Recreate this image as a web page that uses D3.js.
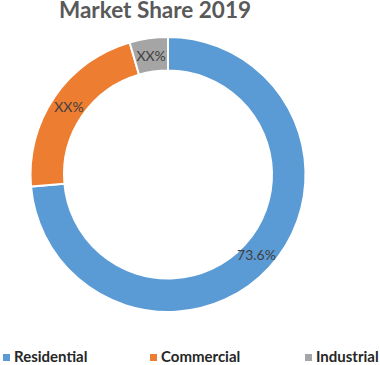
<!DOCTYPE html>
<html><head><meta charset="utf-8">
<script src="https://cdn.jsdelivr.net/npm/d3@7/dist/d3.min.js"></script>
<style>html,body{margin:0;padding:0;background:#fff;}</style>
</head><body><div id="chart"></div>
<script>
const categories = ["Residential", "Commercial", "Industrial"];
const values = [73.6, 21.9, 4.5];
const labels = ["73.6%", "XX%", "XX%"];
const colors = ["#5B9BD5", "#ED7D31", "#A5A5A5"];
const title = "Market Share 2019";

const W = 380, H = 365;
const cx = 168, cy = 174.5, rOuter = 137.5, rInner = 104;
const svg = d3.select("#chart").append("svg").attr("width", W).attr("height", H);

svg.append("text").attr("x", 155).attr("y", 18).attr("text-anchor", "middle")
  .attr("font-family", "Lato, 'Open Sans', sans-serif").attr("font-weight", "bold")
  .attr("font-size", 22.5).attr("fill", "#595959").text(title);

const data = categories.map((c, i) => ({cat: c, value: values[i], label: labels[i], color: colors[i]}));
const pie = d3.pie().value(d => d.value).sort(null);
const arc = d3.arc().innerRadius(rInner).outerRadius(rOuter);
const labelArc = d3.arc().innerRadius(120).outerRadius(120);
const g = svg.append("g").attr("transform", `translate(${cx},${cy})`);
const arcs = pie(data);
g.selectAll("path").data(arcs).join("path")
  .attr("d", arc).attr("fill", d => d.data.color)
  .attr("stroke", "#fff").attr("stroke-width", 2);
g.selectAll("text").data(arcs).join("text")
  .attr("transform", d => `translate(${labelArc.centroid(d)})`)
  .attr("text-anchor", "middle").attr("dy", "0.35em")
  .attr("font-family", "Lato, 'Open Sans', sans-serif").attr("font-size", 14)
  .attr("fill", "#404040").text(d => d.data.label);

const legendX = [3, 150, 305];
const lg = svg.append("g");
data.forEach((d, i) => {
  lg.append("rect").attr("x", legendX[i]).attr("y", 354).attr("width", 7).attr("height", 7).attr("fill", d.color);
  lg.append("text").attr("x", legendX[i] + 11).attr("y", 362)
    .attr("font-family", "Lato, 'Open Sans', sans-serif").attr("font-weight", "bold")
    .attr("font-size", 15).attr("fill", "#262626").text(d.cat);
});
</script></body></html>
